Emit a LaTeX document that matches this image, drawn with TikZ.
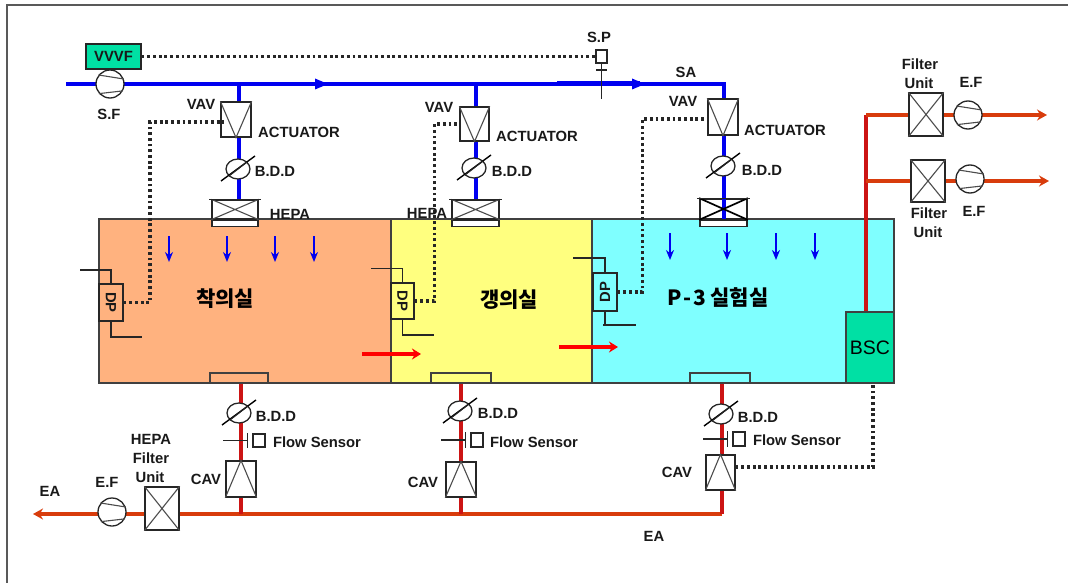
\documentclass[tikz,border=0pt]{standalone}
\usepackage{fontspec}
\setmainfont{Liberation Sans}
\newfontfamily\hangul{Noto Sans CJK KR}
\usepackage{xcolor}
\usetikzlibrary{arrows.meta, positioning, shapes.geometric}
\definecolor{ductblue}{HTML}{0000F0}
\definecolor{ductred}{HTML}{CC1414}
\definecolor{ductorange}{HTML}{D83C0C}
\definecolor{unitgreen}{HTML}{00E0A4}
\definecolor{roomorange}{HTML}{FFB27F}
\definecolor{roomyellow}{HTML}{FFFF7F}
\definecolor{roomcyan}{HTML}{7FFFFF}
\tikzset{
  tag/.style={font=\bfseries\fontsize{14.8}{15}\selectfont, inner sep=0pt, text=black!90},
  roomtag/.style={font=\hangul\bfseries\fontsize{21}{22}\selectfont, inner sep=0pt},
  roombox/.style={draw=black!75, line width=1.3pt, inner sep=0pt},
  devbox/.style={draw=black!85, line width=1.3pt, fill=white, inner sep=0pt},
  fanbox/.style={devbox, circle, minimum size=28pt},
  damperbox/.style={devbox, ellipse, minimum width=24pt, minimum height=20pt},
  thinline/.style={black!85, line width=1.1pt},
  supply/.style={ductblue, line width=3.4pt},
  extract/.style={ductorange, line width=3.2pt},
  riser/.style={ductred, line width=3.2pt},
  signal/.style={black!85, line width=3.2pt, dash pattern=on 2.8pt off 2.9pt},
}
\begin{document}
\begin{tikzpicture}[x=1pt, y=-1pt]
  \useasboundingbox (0,0) rectangle (1068,583);
  % Frame
  \draw[black!65, line width=1.2pt] (7,583) -- (7,5) -- (1068,5);

  % Rooms
  \node[roombox, fill=roomorange, minimum width=292pt, minimum height=164pt] (roomA) at (245,301) {};
  \node[roombox, fill=roomyellow, minimum width=201pt, minimum height=164pt] (roomB) at (491.5,301) {};
  \node[roombox, fill=roomcyan, minimum width=302pt, minimum height=164pt] (roomC) at (743,301) {};
  \node[roombox, fill=unitgreen, minimum width=48pt, minimum height=71pt,
    font=\fontsize{19.5}{20}\selectfont] (bsc) at (870,347.5) {BSC};

  % Grilles at the floor
  \node[roombox, fill=roomorange, minimum width=58pt, minimum height=10pt] (grilleA) at (239,378) {};
  \node[roombox, fill=roomyellow, minimum width=60pt, minimum height=10pt] (grilleB) at (461,378) {};
  \node[roombox, fill=roomcyan, minimum width=60pt, minimum height=10pt] (grilleC) at (720,378) {};

  % Supply side
  \coordinate (sastart) at (66,84);
  \coordinate (sacorner) at (724,84);
  \coordinate (stemA) at (239,84);
  \coordinate (stemB) at (476,84);
  \draw[supply] (sastart) -- (sacorner) -- (724,99);
  \draw[supply, line width=5pt] (557,84) -- (640,84);
  \node[fanbox] (sfan) at (110,84) {};
  \node[devbox, fill=unitgreen, minimum width=55pt, minimum height=25pt, tag] (vvvf) at (113.5,56.5) {VVVF};
  \node[devbox, minimum width=46pt, minimum height=19pt] (hepaA) at (235,209.5) {};
  \node[devbox, minimum width=47pt, minimum height=19pt] (hepaB) at (475.5,209.5) {};
  \node[devbox, minimum width=47pt, minimum height=20pt, line width=1.7pt] (hepaC) at (723.5,209) {};
  \node[devbox, minimum width=46pt, minimum height=6pt, below=0pt of hepaA] (stripA) {};
  \node[devbox, minimum width=47pt, minimum height=6pt, below=0pt of hepaB] (stripB) {};
  \node[devbox, minimum width=47pt, minimum height=6pt, below=0pt of hepaC] (stripC) {};
  \draw[supply] (stemA) -- (stemA |- hepaA.north);
  \draw[supply] (stemB) -- (stemB |- hepaB.north);
  \draw[supply] (724,135) -- (724,219);
  \foreach \x in {315,632} {
    \fill[ductblue] (\x,78.5) -- ++(13,5.5) -- ++(-13,5.5) -- cycle;
  }
  \node[devbox, minimum width=30pt, minimum height=35pt] (vavA) at (236,119.5) {};
  \node[devbox, minimum width=29pt, minimum height=34pt] (vavB) at (474.5,124) {};
  \node[devbox, minimum width=30pt, minimum height=36pt] (vavC) at (723,117) {};
  \foreach \v in {vavA,vavB,vavC} {
    \draw[thinline, black!70] (\v.north west) -- (\v.south) -- (\v.north east);
  }
  \foreach \h in {hepaA,hepaB} {
    \draw[thinline, black!70] (\h.north west) -- (\h.south east) (\h.south west) -- (\h.north east);
  }
  \draw[black, line width=1.7pt] (hepaC.north west) -- (hepaC.south east) (hepaC.south west) -- (hepaC.north east);
  \foreach \h in {hepaA,hepaB,hepaC} {
    \draw[thinline] ([xshift=-2pt]\h.north west) -- ([xshift=2pt]\h.north east);
  }
  \node[damperbox] (bddA) at (238,169) {};
  \node[damperbox] (bddB) at (474,168) {};
  \node[damperbox] (bddC) at (723,166) {};

  % Exhaust side
  \coordinate (eacorner) at (722,514);
  \coordinate (eaend) at (33,514);
  \node[devbox, minimum width=30pt, minimum height=36pt] (cavA) at (241,479) {};
  \node[devbox, minimum width=30pt, minimum height=35pt] (cavB) at (461,479.5) {};
  \node[devbox, minimum width=29pt, minimum height=35pt] (cavC) at (720.5,472.5) {};
  \draw[extract, -{Stealth[length=10pt, width=11pt]}] (eacorner) -- (eaend);
  \draw[riser] (grilleA.south -| cavA) -- (cavA.north);
  \draw[riser] (grilleB.south -| cavB) -- (cavB.north);
  \draw[riser] (grilleC.south -| eacorner) -- (cavC.north -| eacorner);
  \draw[riser] (cavA.south) -- (cavA.south |- eacorner);
  \draw[riser] (cavB.south) -- (cavB.south |- eacorner);
  \draw[riser] (cavC.south -| eacorner) -- (eacorner);
  \node[fanbox] (efan) at (112,512) {};
  \node[devbox, minimum width=34pt, minimum height=43pt] (filterE) at (162,508.5) {};
  \foreach \c in {cavA,cavB,cavC} {
    \draw[thinline, black!70] (\c.south west) -- (\c.north) -- (\c.south east);
  }
  \node[damperbox] (bddD) at (239,413) {};
  \node[damperbox] (bddE) at (460,411) {};
  \node[damperbox] (bddF) at (721,414) {};
  \foreach \d in {bddA,bddB,bddC,bddD,bddE,bddF} {
    \draw[black, line width=1.4pt] ([shift={(-17,12)}]\d.center) -- ([shift={(17,-13)}]\d.center);
    \draw[thinline] ([shift={(-9,7)}]\d.center) -- ([shift={(9,-7)}]\d.center);
  }

  % Flow sensors
  \node[devbox, minimum width=12pt, minimum height=13pt] (sensA) at (259,440.5) {};
  \node[devbox, minimum width=12pt, minimum height=14pt] (sensB) at (477,440) {};
  \node[devbox, minimum width=12pt, minimum height=14pt] (sensC) at (739,439) {};
  \foreach \s in {sensA,sensB,sensC} {
    \draw[thinline] ([xshift=-36pt]\s.center) -- ([xshift=-11pt]\s.center);
    \draw[thinline] ([xshift=-5pt]\s.north west) -- ([xshift=-5pt]\s.south west);
  }

  % Right hand exhaust
  \coordinate (riserTop) at (866,115);
  \coordinate (riserMid) at (866,181);
  \coordinate (outA) at (1047,115);
  \coordinate (outB) at (1049,181);
  \draw[riser] (bsc.north -| riserTop) -- (riserTop);
  \draw[extract, -{Stealth[length=10pt, width=11pt]}] (riserTop) -- (outA);
  \draw[extract, -{Stealth[length=10pt, width=11pt]}] (riserMid) -- (outB);
  \node[devbox, minimum width=34pt, minimum height=43pt] (filterA) at (926,114.5) {};
  \node[devbox, minimum width=34pt, minimum height=42pt] (filterB) at (928,181) {};
  \node[fanbox] (efanA) at (968,115) {};
  \node[fanbox] (efanB) at (970,179) {};
  \foreach \f in {filterA,filterB,filterE} {
    \draw[thinline, black!70] (\f.north west) -- (\f.south east) (\f.south west) -- (\f.north east);
  }
  \foreach \f in {sfan,efan,efanA,efanB} {
    \draw[thinline, black!70] (\f.142) -- (\f.20) (\f.221) -- (\f.-28);
  }

  % Room arrows
  \foreach \x in {169,227,275,314} {
    \draw[ductblue, line width=2.8pt, -{Stealth[length=10pt, width=8pt]}] (\x,236) -- (\x,262);
  }
  \foreach \x in {670,727,776,815} {
    \draw[ductblue, line width=2.8pt, -{Stealth[length=10pt, width=8pt]}] (\x,233) -- (\x,260);
  }
  \draw[red, line width=3.2pt, -{Stealth[length=9pt, width=11pt]}] (362,354) -- (421,354);
  \draw[red, line width=3.2pt, -{Stealth[length=9pt, width=11pt]}] (559,347) -- (618,347);

  % Differential pressure gauges
  \node[devbox, fill=roomorange, minimum width=24pt, minimum height=37pt] (dpA) at (111,302.5) {};
  \node[tag, rotate=-90] (dpAtag) at (dpA) {DP};
  \node[devbox, fill=roomyellow, minimum width=23pt, minimum height=36pt] (dpB) at (402.5,301) {};
  \node[tag, rotate=-90] (dpBtag) at (dpB) {DP};
  \node[devbox, fill=roomcyan, minimum width=24pt, minimum height=38pt] (dpC) at (605,292) {};
  \node[tag, rotate=90] (dpCtag) at (dpC) {DP};
  \draw[thinline] (80,270) -| (dpA.north);
  \draw[thinline] (dpA.south) |- (142,337);
  \draw[thinline] (371,268.5) -| (dpB.north);
  \draw[thinline] (dpB.south) |- (434,335);
  \draw[thinline] (573,258) -| (dpC.north);
  \draw[thinline] (dpC.south) |- (636,325);
  \draw[thinline] (603,325) -- (636,325);

  % Static pressure sensor
  \node[devbox, line width=1.1pt, minimum width=11pt, minimum height=13pt] (spbox) at (601.5,56.5) {};
  \draw[thinline] (spbox.south) -- ++(0,35) coordinate (spfoot);
  \draw[thinline] (596,70) -- (607,70);

  % Control lines
  \coordinate (bendA) at (150,122);
  \coordinate (bendB) at (434.5,124);
  \coordinate (bendC) at (642.5,119);
  \coordinate (bendD) at (873,467);
  \draw[signal] (vvvf.east) -- (spbox.west);
  \draw[signal] (dpA.east) -| (bendA) -- (224,122);
  \draw[signal] (dpB.east) -| (bendB) -- (vavB.west);
  \draw[signal] (dpC.east) -| (bendC) -- (vavC.west |- bendC);
  \draw[signal] (cavC.east |- bendD) -- (bendD) -- (bendD |- bsc.south);

  % Labels
  \node[tag] (tagSF) at (109,114) {S.F};
  \node[tag] (tagSP) at (599,37) {S.P};
  \node[tag] (tagSA) at (686,72) {SA};
  \node[tag] (tagVavA) at (201,104) {VAV};
  \node[tag] (tagVavB) at (439,107) {VAV};
  \node[tag] (tagVavC) at (683,101) {VAV};
  \node[tag] (tagActA) at (299,132) {ACTUATOR};
  \node[tag] (tagActB) at (537,136) {ACTUATOR};
  \node[tag] (tagActC) at (785,130) {ACTUATOR};
  \node[tag] (tagBddA) at (275,171) {B.D.D};
  \node[tag] (tagBddB) at (512,171) {B.D.D};
  \node[tag] (tagBddC) at (762,170) {B.D.D};
  \node[tag] (tagHepaA) at (290,214) {HEPA};
  \node[tag] (tagHepaB) at (427,213) {HEPA};
  \node[tag] (tagBddD) at (276,416) {B.D.D};
  \node[tag] (tagBddE) at (498,413) {B.D.D};
  \node[tag] (tagBddF) at (758,417) {B.D.D};
  \node[tag] (tagFlowA) at (317,442) {Flow Sensor};
  \node[tag] (tagFlowB) at (534,442) {Flow Sensor};
  \node[tag] (tagFlowC) at (797,440) {Flow Sensor};
  \node[tag] (tagCavA) at (206,479) {CAV};
  \node[tag] (tagCavB) at (423,482) {CAV};
  \node[tag] (tagCavC) at (677,472) {CAV};
  \node[tag] (tagEfan) at (107,482) {E.F};
  \node[tag] (tagEaA) at (50,491) {EA};
  \node[tag] (tagEaB) at (654,536) {EA};
  \node[tag] (tagHepaE) at (151,439) {HEPA};
  \node[tag] (tagFiltE) at (151,458) {Filter};
  \node[tag] (tagUnitE) at (150,477) {Unit};
  \node[tag] (tagFiltA) at (920,64) {Filter};
  \node[tag] (tagUnitA) at (919,83) {Unit};
  \node[tag] (tagEfanA) at (971,82) {E.F};
  \node[tag] (tagFiltB) at (929,213) {Filter};
  \node[tag] (tagUnitB) at (928,232) {Unit};
  \node[tag] (tagEfanB) at (974,211) {E.F};
  \node[roomtag] (nameA) at (225,299) {착의실};
  \node[roomtag] (nameB) at (509,300) {갱의실};
  \node[roomtag] (nameC) at (718,298) {P\kern2pt-\kern2pt3\kern4pt 실험실};
\end{tikzpicture}
\end{document}
